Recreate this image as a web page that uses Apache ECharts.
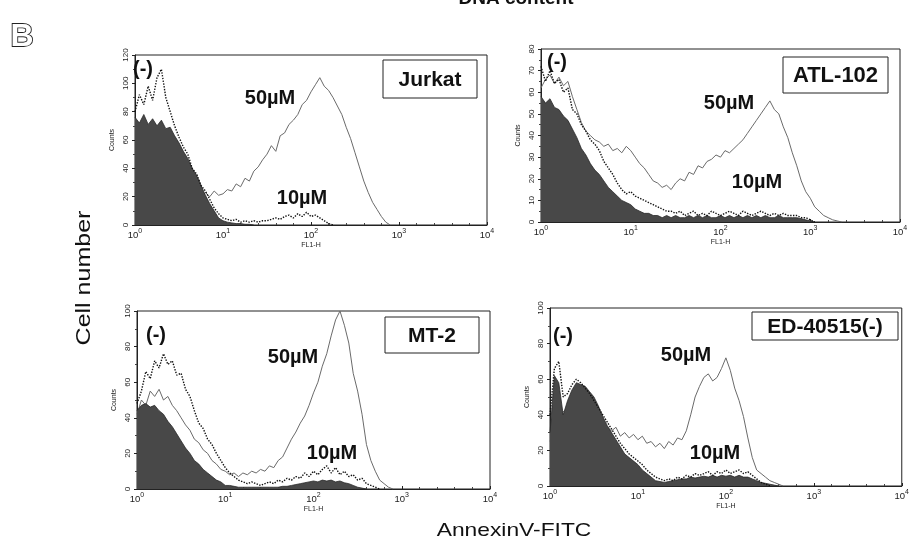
<!DOCTYPE html>
<html>
<head>
<meta charset="utf-8">
<script src="https://cdn.jsdelivr.net/npm/echarts@6/dist/echarts.min.js"></script>
<style>html,body{margin:0;padding:0;background:#fff}#c{width:912px;height:556px}</style>
</head>
<body>
<div id="c"></div>
<script>
// log10(FL1-H) channel positions
const channels = [0,0.05,0.1,0.15,0.2,0.25,0.3,0.35,0.4,0.45,0.5,0.55,0.6,0.65,0.7,0.75,0.8,0.85,0.9,0.95,1,1.05,1.1,1.15,1.2,1.25,1.3,1.35,1.4,1.45,1.5,1.55,1.6,1.65,1.7,1.75,1.8,1.85,1.9,1.95,2,2.05,2.1,2.15,2.2,2.25,2.3,2.35,2.4,2.45,2.5,2.55,2.6,2.65,2.7,2.75,2.8,2.85,2.9,2.95,3,3.05,3.1,3.15,3.2,3.25,3.3,3.35,3.4,3.45,3.5];
const xTickLabels = ['0','1','2','3','4'];

// Jurkat
const jurkatNeg = [76,72,78,71,75,70,74,68,69,63,58,52,47,40,35,28,21,15,10,5,3,2,1.5,1,1,0.5,0.5,0];
const jurkat10 = [80,92,85,98,88,104,110,90,80,70,62,55,50,40,36,28,24,18,12,8,5,4,3,4,2,3,2,3,2,3,3,4,5,4,6,7,5,8,6,9,6,7,5,3,1,0];
const jurkat50 = [18,22,20,24,19,23,21,18,22,19,21,17,20,18,22,19,23,20,24,21,22,25,24,29,27,33,31,38,41,46,50,56,52,63,65,71,74,78,85,88,94,99,104,98,95,90,84,78,69,61,51,41,31,23,16,11,6,2,0];
// ATL-102
const atlNeg = [58,55,57,53,52,49,47,43,39,34,31,27,24,22,19,16,14,12,10,9,8,6,5,4,4,3,3,2,3,2,3,2,2,3,2,3,2,3,2,2,3,2,3,2,3,2,3,2,3,2,3,2,2,3,2,2,2,2,1.5,1,0.5,0];
const atl10 = [72,65,70,64,66,60,62,52,50,45,42,38,36,33,28,25,22,18,15,13,14,12,11,10,9,8,7,6,5,5,4,5,3,4,5,3,4,3,5,4,3,4,5,4,3,5,4,3,4,5,4,3,4,3,4,3,3,3,2,2,1,0];
const atl50 = [62,66,68,64,67,63,65,58,52,46,42,40,38,37,35,36,33,34,32,35,33,30,27,25,22,19,18,16,17,15,18,20,19,23,22,26,25,28,29,31,30,33,32,34,36,38,41,44,47,50,53,56,52,50,44,39,32,26,19,14,11,7,5,3,2,1,0.5,0];
// MT-2
const mt2Neg = [44,47,48,46,47,44,42,38,35,31,27,23,20,16,14,11,9,7,5,4,2,2,1.5,1,1,1,1,1,1,1,1,1,1,1.5,1.5,2,2.5,3,3.5,4,4.5,4,5,4.5,5,4,4.5,3.5,3,2,1,0.5,0];
const mt210 = [48,55,66,62,72,68,76,70,72,64,65,56,52,44,37,34,28,25,20,16,12,9,7,5,4,3,4,3,2,3,4,3,5,4,6,5,7,6,9,7,10,8,11,13,9,12,8,10,7,8,5,6,3,2,1,0];
const mt250 = [42,50,47,55,52,56,50,52,47,44,40,36,33,28,26,22,20,16,14,11,10,8,9,7,9,8,10,9,11,10,13,12,16,18,23,28,32,37,41,47,54,60,69,76,86,95,100,92,82,65,55,42,25,16,10,5,3,1,0];
// ED-40515(-)
const edNeg = [30,62,58,40,48,54,58,57,56,53,50,45,39,34,30,26,22,18,16,14,12,9,7,5,3,2.5,2,2.5,3,3.5,4,4,5,4.5,5,5.5,5,6,5,6,5.5,6,5,6,5,5,4,3,2,1.5,1,0.5,0];
const ed10 = [40,66,70,50,52,57,60,58,55,52,48,44,40,36,32,28,24,21,18,16,14,12,9,7,5,4,3,4,3,5,4,6,5,7,6,7,8,6,8,7,9,7,8,9,7,8,6,4,2,1,0];
const ed50 = [25,34,38,42,40,45,43,46,42,44,40,38,36,33,31,33,28,30,27,29,26,28,24,25,22,24,21,25,23,27,26,31,40,50,56,61,63,59,61,66,72,65,55,48,39,27,16,9,7,5,3,2,1,0];

const panelNames = ['Jurkat','ATL-102','MT-2','ED-40515(-)'];
const yMax = [120,80,100,100];
const yStep = [20,10,20,20];

const FONT = "'Liberation Sans', Arial, Helvetica, sans-serif";
const grids = [
  {left:135, top:55, width:352, height:170},
  {left:541, top:49, width:359, height:173},
  {left:137, top:311, width:353, height:178},
  {left:550, top:308, width:358, height:178}
];
const data = [[jurkatNeg,jurkat10,jurkat50],[atlNeg,atl10,atl50],[mt2Neg,mt210,mt250],[edNeg,ed10,ed50]];

function pairs(arr){ return arr.map((v,i)=>[channels[i], v]); }

const option = {
  backgroundColor:'#fff',
  animation:false,
  grid: grids.map(g=>Object.assign({show:true, borderColor:'#222', borderWidth:1, backgroundColor:'transparent'}, g)),
  xAxis: grids.map((g,i)=>({
    gridIndex:i, type:'value', min:0, max:4, interval:1,
    axisLine:{lineStyle:{color:'#222', width:1}},
    axisTick:{show:true, inside:true, length:3, lineStyle:{color:'#222'}},
    minorTick:{show:true, splitNumber:5, length:2, lineStyle:{color:'#444'}},
    splitLine:{show:false},
    axisLabel:{margin:3, color:'#222', fontFamily:FONT,
      formatter:v=>'{a|10}{b|'+xTickLabels[Math.round(v)]+'}',
      rich:{a:{fontSize:9.5, lineHeight:12, verticalAlign:'bottom', fontFamily:FONT, color:'#222'},
            b:{fontSize:7, lineHeight:7, verticalAlign:'top', fontFamily:FONT, color:'#222'}}},
    name:'FL1-H', nameLocation:'middle', nameGap:17,
    nameTextStyle:{fontSize:7, color:'#222', fontFamily:FONT}
  })),
  yAxis: grids.map((g,i)=>({
    gridIndex:i, type:'value', min:0, max:yMax[i], interval:yStep[i],
    axisLine:{show:true, lineStyle:{color:'#222', width:1}},
    axisTick:{show:true, length:3, lineStyle:{color:'#222'}},
    minorTick:{show:true, splitNumber:2, length:2, lineStyle:{color:'#444'}},
    splitLine:{show:false},
    axisLabel:{rotate:90, fontSize:8, margin:5, color:'#222', fontFamily:FONT},
    name:'Counts', nameLocation:'middle', nameGap:19, nameRotate:90,
    nameTextStyle:{fontSize:7, color:'#222', fontFamily:FONT}
  })),
  series: []
};

data.forEach((d,i)=>{
  option.series.push({type:'line', name:'50µM', xAxisIndex:i, yAxisIndex:i, data:pairs(d[2]),
    showSymbol:false, symbol:'none', z:2,
    lineStyle:{color:'#6a6a6a', width:1}});
  option.series.push({type:'line', name:'(-)', xAxisIndex:i, yAxisIndex:i, data:pairs(d[0]),
    showSymbol:false, symbol:'none', z:3,
    lineStyle:{color:'#2a2a2a', width:0.8},
    areaStyle:{color:'#484848', opacity:1}});
  option.series.push({type:'line', name:'10µM', xAxisIndex:i, yAxisIndex:i, data:pairs(d[1]),
    showSymbol:false, symbol:'none', z:4,
    lineStyle:{color:'#111', width:1.4, type:'dotted'}});
});

function txt(text, x, y, size, extra, weight){
  return Object.assign({type:'text', x:x, y:y, z:50,
    style:{text:text, x:0, y:0, fill:'#111', font:(weight||'normal')+' '+size+'px '+FONT, align:'center', verticalAlign:'middle'}}, extra||{});
}
function boxed(text, x1, y1, x2, y2, size){
  return [
    {type:'rect', z:49, shape:{x:x1, y:y1, width:x2-x1, height:y2-y1},
      style:{fill:'#fff', stroke:'#222', lineWidth:1}},
    txt(text, (x1+x2)/2, (y1+y2)/2+1, size, null, 'bold')
  ];
}

const g = [];
g.push({type:'text', x:22, y:37, z:50, style:{text:'B', x:0, y:0, fill:'#fff', stroke:'#222', lineWidth:1.8,
  font:'bold 32px '+FONT, align:'center', verticalAlign:'middle'}});
g.push(txt('DNA content', 516, -1, 19, null, 'bold'));
g.push(txt('Cell number', 84, 278, 20, {rotation:Math.PI/2, scaleX:1.25}));
g.push(txt('AnnexinV-FITC', 514, 531, 19, {scaleX:1.2}));
// panel annotations
g.push(txt('(-)', 143, 69, 20, null, 'bold'));
g.push(txt('50µM', 270, 98, 20, null, 'bold'));
g.push(txt('10µM', 302, 198, 20, null, 'bold'));
g.push(...boxed(panelNames[0], 383, 60, 477, 98, 21));

g.push(txt('(-)', 557, 62, 20, null, 'bold'));
g.push(txt('50µM', 729, 103, 20, null, 'bold'));
g.push(txt('10µM', 757, 182, 20, null, 'bold'));
g.push(...boxed(panelNames[1], 783, 57, 888, 93, 22));

g.push(txt('(-)', 156, 335, 20, null, 'bold'));
g.push(txt('50µM', 293, 357, 20, null, 'bold'));
g.push(txt('10µM', 332, 453, 20, null, 'bold'));
g.push(...boxed(panelNames[2], 385, 317, 479, 353, 21));

g.push(txt('(-)', 563, 336, 20, null, 'bold'));
g.push(txt('50µM', 686, 355, 20, null, 'bold'));
g.push(txt('10µM', 715, 453, 20, null, 'bold'));
g.push(...boxed(panelNames[3], 752, 312, 898, 340, 21));

option.graphic = g;

const chart = echarts.init(document.getElementById('c'), null, {renderer:'canvas'});
chart.setOption(option);
</script>
</body>
</html>
